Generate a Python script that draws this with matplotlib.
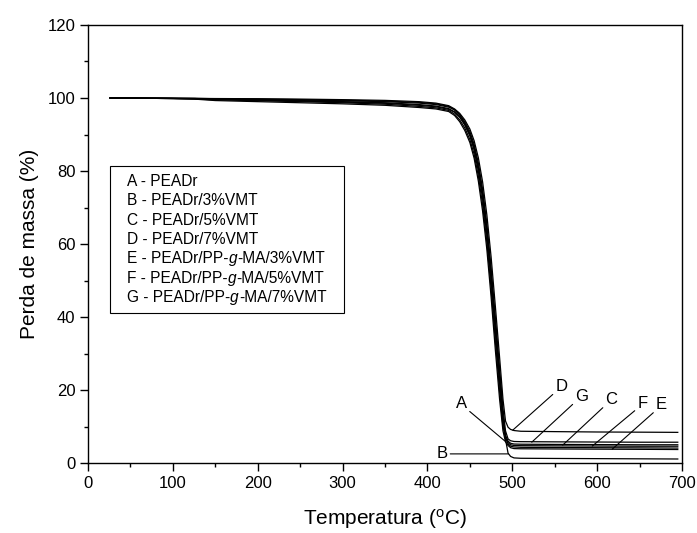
import numpy as np
import matplotlib
matplotlib.use('Agg')
import matplotlib.pyplot as plt
from matplotlib.ticker import MultipleLocator
from matplotlib.offsetbox import TextArea, HPacker, VPacker, DrawingArea, AnchoredOffsetbox

plt.rcParams['font.family'] = ['Liberation Sans', 'DejaVu Sans']
plt.rcParams['mathtext.fontset'] = 'custom'
plt.rcParams['mathtext.rm'] = 'Liberation Sans'
plt.rcParams['mathtext.it'] = 'Liberation Sans:italic'

# -- data
temp = [26, 60, 100, 125, 150, 200, 250, 300, 350, 390, 410, 425,
        432, 438, 444, 450, 455, 460, 465, 470, 475, 480, 485, 489,
        492, 495, 498, 502, 510, 550, 600, 650, 695]

mass_A = [100.0, 99.95, 99.9, 99.85, 99.7, 99.5, 99.3, 99.0, 98.7, 98.2, 97.8, 97.1,
          96.2, 94.8, 92.6, 89.6, 85.8, 80.0, 72.5, 62.5, 50.0, 36.0, 22.0, 11.5,
          7.0, 5.2, 4.6, 4.4, 4.3, 4.25, 4.2, 4.15, 4.1]
mass_B = [100.0, 99.95, 99.9, 99.9, 99.8, 99.7, 99.55, 99.4, 99.15, 98.8, 98.4, 97.7,
          96.7, 95.3, 93.1, 90.2, 86.6, 81.1, 73.8, 64.0, 51.8, 38.0, 24.0, 13.0,
          6.5, 2.7, 1.8, 1.4, 1.3, 1.25, 1.2, 1.15, 1.1]
mass_C = [100.0, 99.95, 99.85, 99.8, 99.65, 99.4, 99.15, 98.9, 98.55, 98.0, 97.6, 96.9,
          96.1, 94.8, 92.8, 90.0, 86.3, 80.8, 73.6, 63.8, 51.5, 37.5, 23.5, 12.5,
          7.6, 6.0, 5.4, 5.2, 5.15, 5.1, 5.05, 5.0, 5.0]
mass_D = [100.0, 100.0, 99.95, 99.9, 99.85, 99.8, 99.7, 99.55, 99.35, 99.0, 98.6, 97.9,
          97.0, 95.8, 94.0, 91.5, 88.3, 83.6, 77.0, 68.0, 56.5, 43.0, 29.0, 17.5,
          11.5, 9.8, 9.2, 8.9, 8.7, 8.6, 8.5, 8.45, 8.4]
mass_E = [100.0, 99.95, 99.85, 99.7, 99.3, 99.0, 98.7, 98.4, 98.0, 97.4, 97.0, 96.3,
          95.2, 93.5, 91.1, 87.8, 83.5, 77.2, 69.0, 58.5, 45.5, 31.0, 17.5, 8.8,
          5.8, 4.8, 4.2, 3.95, 3.9, 3.85, 3.8, 3.75, 3.7]
mass_F = [100.0, 99.95, 99.85, 99.75, 99.5, 99.25, 99.0, 98.7, 98.3, 97.7, 97.3, 96.6,
          95.6, 94.0, 91.8, 88.6, 84.6, 78.6, 70.8, 60.5, 47.8, 33.5, 19.8, 10.0,
          7.0, 5.6, 5.0, 4.8, 4.75, 4.7, 4.65, 4.6, 4.6]
mass_G = [100.0, 99.95, 99.9, 99.85, 99.75, 99.6, 99.45, 99.25, 99.0, 98.6, 98.2, 97.5,
          96.8, 95.5, 93.5, 90.8, 87.3, 82.2, 75.0, 65.5, 53.5, 40.0, 26.0, 15.0,
          8.8, 6.6, 6.1, 5.9, 5.85, 5.8, 5.75, 5.7, 5.7]

series = {'A': mass_A, 'B': mass_B, 'C': mass_C, 'D': mass_D,
          'E': mass_E, 'F': mass_F, 'G': mass_G}
# '|' marks the italic part
names = ['A - PEADr',
         'B - PEADr/3%VMT',
         'C - PEADr/5%VMT',
         'D - PEADr/7%VMT',
         'E - PEADr/PP-|g|-MA/3%VMT',
         'F - PEADr/PP-|g|-MA/5%VMT',
         'G - PEADr/PP-|g|-MA/7%VMT']

# -- label (x, y), pointer target (x, y), line start on the label
tags = {'D': ((558, 20.9), (500.5, 9.0), (0.0, 0.15)),
        'G': ((582, 18.2), (522.9, 5.7), (0.0, 0.15)),
        'C': ((617, 17.3), (559.4, 4.9), (0.0, 0.15)),
        'F': ((653.5, 16.4), (594.3, 4.65), (0.0, 0.15)),
        'E': ((676, 15.9), (617.8, 3.8), (0.0, 0.15)),
        'A': ((440, 16.4), (491.4, 6.0), (1.0, 0.1)),
        'B': ((417, 2.5), (495.5, 2.5), (1.0, 0.5))}

fig, ax = plt.subplots(figsize=(6.97, 5.33), dpi=100)
fig.subplots_adjust(left=0.1263, right=0.9785, bottom=0.1313, top=0.9531)

for key in series:
    ax.plot(temp, series[key], color='black', lw=0.9)

for key, (txt, tgt, rp) in tags.items():
    ax.annotate(key, xy=tgt, xytext=txt, fontsize=12, ha='center', va='center',
                arrowprops=dict(arrowstyle='-', color='black', lw=0.8,
                                shrinkA=0, shrinkB=0, relpos=rp))

# -- legend box (text only, italic g)
rows = []
for name in names:
    parts = name.split('|')
    kids = [TextArea(p, textprops=dict(fontsize=11.2, style='italic' if i % 2 else 'normal'))
            for i, p in enumerate(parts)]
    rows.append(HPacker(children=kids, sep=0, pad=0, align='baseline'))
col = VPacker(children=rows, sep=3.2, pad=0, align='left')
body = HPacker(children=[DrawingArea(6.5, 1), col, DrawingArea(6.5, 1)], sep=0, pad=0, align='center')
box = AnchoredOffsetbox(loc='upper left', child=body, pad=0.58, borderpad=0, frameon=True,
                        bbox_to_anchor=(0.037, 0.679), bbox_transform=ax.transAxes)
box.patch.set_boxstyle('square', pad=0)
box.patch.set_edgecolor('black')
box.patch.set_linewidth(0.8)
ax.add_artist(box)

ax.set_xlim(0, 700)
ax.set_ylim(0, 120)
ax.xaxis.set_major_locator(MultipleLocator(100))
ax.xaxis.set_minor_locator(MultipleLocator(50))
ax.yaxis.set_major_locator(MultipleLocator(20))
ax.yaxis.set_minor_locator(MultipleLocator(10))
ax.tick_params(which='both', direction='out', top=False, right=False, width=1, labelsize=12)
ax.tick_params(which='major', length=5.5)
ax.tick_params(which='minor', length=3)
for s in ax.spines.values():
    s.set_linewidth(1.0)

ax.set_xlabel('Temperatura ($^\\mathrm{o}$C)', fontsize=15, labelpad=12)
ax.set_ylabel('Perda de massa (%)', fontsize=15, labelpad=6)

fig.savefig('out.png', dpi=100)
